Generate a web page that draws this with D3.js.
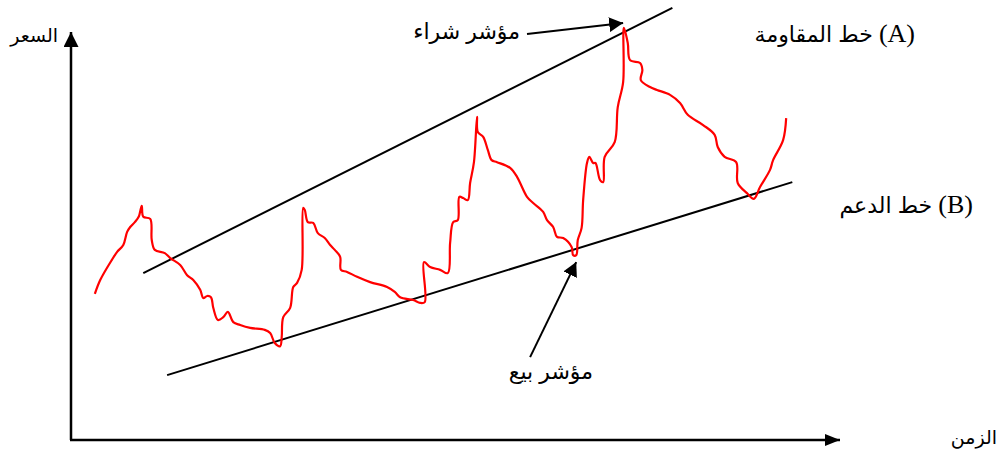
<!DOCTYPE html>
<html>
<head>
<meta charset="utf-8">
<script src="https://cdn.jsdelivr.net/npm/d3@7"></script>
<style>
  html, body { margin: 0; padding: 0; background: #fff; }
  svg { display: block; }
</style>
</head>
<body>
<svg id="chart" width="1005" height="456"></svg>
<script>
// Price path over time (time 0-100, price 0-100)
const priceTime = [3.1,3.8,5.3,6.0,6.8,7.3,7.7,8.3,8.8,9.2,9.4,10.3,10.5,10.9,12.2,12.9,14.2,15.1,15.9,16.8,17.2,17.7,18.2,18.5,19.1,19.8,20.4,21.1,22.0,23.3,25.2,25.9,26.5,27.2,27.4,27.6,28.5,28.9,29.4,30.0,30.2,30.4,30.8,31.5,32.1,33.0,33.7,34.3,35.0,35.1,35.9,37.2,38.9,41.1,42.1,42.8,44.5,45.4,46.0,45.9,46.7,48.0,49.0,49.3,49.7,50.3,50.5,51.0,51.6,51.9,52.4,52.8,52.9,53.6,54.2,54.7,55.4,57.1,58.0,59.3,60.1,61.4,61.9,62.7,63.2,64.0,65.1,65.3,65.7,65.9,66.4,66.6,67.1,67.4,67.9,68.2,68.8,69.2,69.4,70.7,71.1,71.8,71.9,72.4,72.7,74.0,74.3,74.1,75.3,76.2,77.9,79.2,80.2,82.2,83.7,84.1,85.0,86.5,86.7,87.9,88.8,89.6,90.9,91.3,92.6,93.0];
const priceValue = [35.8,39.2,44.1,46.1,47.8,51.0,52.2,53.4,54.7,57.4,54.7,54.2,49.0,46.6,45.8,44.6,42.9,40.4,39.2,36.8,34.8,35.3,35.0,32.4,29.4,30.1,31.4,28.9,28.2,27.5,27.0,26.2,23.8,23.0,25.2,30.1,32.4,37.5,38.5,41.7,56.9,56.4,53.4,53.2,50.7,49.5,47.8,46.6,44.9,41.7,41.2,40.0,38.7,37.5,36.3,35.0,34.3,33.6,33.8,43.6,42.4,41.7,40.9,48.3,53.4,53.9,59.6,59.3,58.8,63.0,68.1,79.2,75.5,74.3,71.1,68.6,68.1,66.7,64.5,59.6,58.1,55.9,53.9,52.2,49.8,49.5,47.3,45.3,45.3,49.0,52.0,58.8,67.9,69.4,67.9,67.9,63.7,63.2,69.4,73.0,81.6,87.7,101.0,97.3,93.1,92.4,90.7,88.2,86.5,85.8,84.6,82.6,79.7,77.2,74.8,71.8,69.4,68.1,63.0,60.5,59.1,62.0,66.2,68.6,73.5,78.9];

// Trend channel: resistance (A) and support (B), as [time, price] end points
const resistanceLine = [[9.4, 40.9], [78.2, 105.9]];
const supportLine = [[12.5, 15.9], [93.8, 63.2]];

// Signal arrows: [from, to] in [time, price]
const buySignal = [[59.3, 99.5], [71.8, 102.2]];
const sellSignal = [[59.7, 20.3], [65.7, 43.6]];

// Labels
const axisLabels = { price: "السعر", time: "الزمن" };
const signalLabels = { buy: "مؤشر شراء", sell: "مؤشر بيع" };
const lineNames = { resistance: "خط المقاومة", support: "خط الدعم" };
const lineTags = { resistance: "(A)", support: "(B)" };

const svg = d3.select("#chart");
const x = d3.scaleLinear().domain([0, 100]).range([71, 840]);
const y = d3.scaleLinear().domain([0, 100]).range([440, 32]);

// Arrowhead markers
const defs = svg.append("defs");
function marker(id, len, wid) {
  defs.append("marker")
    .attr("id", id)
    .attr("viewBox", `0 0 ${len} ${wid}`)
    .attr("refX", len).attr("refY", wid / 2)
    .attr("markerWidth", len).attr("markerHeight", wid)
    .attr("markerUnits", "userSpaceOnUse")
    .attr("orient", "auto")
    .append("path")
    .attr("d", `M0,0 L${len},${wid / 2} L0,${wid} Z`)
    .attr("fill", "#000");
}
marker("axisHeadY", 15, 15);
marker("axisHeadX", 15, 12);
marker("signalHead", 14, 15);

// Axes (plain arrows, no ticks)
svg.append("line")
  .attr("x1", x(0)).attr("y1", y(0))
  .attr("x2", x(0)).attr("y2", y(100))
  .attr("stroke", "#000").attr("stroke-width", 2.5)
  .attr("marker-end", "url(#axisHeadY)");
svg.append("line")
  .attr("x1", x(0) - 1).attr("y1", y(0))
  .attr("x2", x(100)).attr("y2", y(0))
  .attr("stroke", "#000").attr("stroke-width", 2.5)
  .attr("marker-end", "url(#axisHeadX)");

// Channel lines
[resistanceLine, supportLine].forEach(seg => {
  svg.append("line")
    .attr("x1", x(seg[0][0])).attr("y1", y(seg[0][1]))
    .attr("x2", x(seg[1][0])).attr("y2", y(seg[1][1]))
    .attr("stroke", "#000").attr("stroke-width", 2);
});

// Price path
const pts = priceTime.map((t, i) => [t, priceValue[i]]);
const line = d3.line().x(d => x(d[0])).y(d => y(d[1])).curve(d3.curveCatmullRom.alpha(0.5));
svg.append("path")
  .attr("d", line(pts))
  .attr("fill", "none")
  .attr("stroke", "#ff0000")
  .attr("stroke-width", 2.2)
  .attr("stroke-linejoin", "round");

// Signal arrows
[buySignal, sellSignal].forEach(seg => {
  svg.append("line")
    .attr("x1", x(seg[0][0])).attr("y1", y(seg[0][1]))
    .attr("x2", x(seg[1][0])).attr("y2", y(seg[1][1]))
    .attr("stroke", "#000").attr("stroke-width", 2)
    .attr("marker-end", "url(#signalHead)");
});

// Text
const sans = "'Liberation Sans', 'DejaVu Sans', sans-serif";
const serif = "'Liberation Serif', 'DejaVu Sans', serif";
function label(txt, px, py, size, family, anchor) {
  svg.append("text")
    .attr("x", px).attr("y", py)
    .attr("font-size", size)
    .attr("font-family", family)
    .attr("text-anchor", anchor)
    .attr("fill", "#000")
    .text(txt);
}
function lineLabel(name, tag, px, py) {
  const t = svg.append("text")
    .attr("x", px).attr("y", py)
    .attr("text-anchor", "end")
    .attr("fill", "#000");
  t.append("tspan").attr("font-family", sans).attr("font-size", 22).text(name + " ");
  t.append("tspan").attr("font-family", serif).attr("font-size", 26).text(tag);
}
label(axisLabels.price, 58, 42, 19, sans, "end");
label(axisLabels.time, 997, 444, 19, sans, "end");
label(signalLabels.buy, 520, 39, 22, sans, "end");
label(signalLabels.sell, 593, 379, 22, sans, "end");
lineLabel(lineNames.resistance, lineTags.resistance, 915, 42);
lineLabel(lineNames.support, lineTags.support, 973, 213);
</script>
</body>
</html>
